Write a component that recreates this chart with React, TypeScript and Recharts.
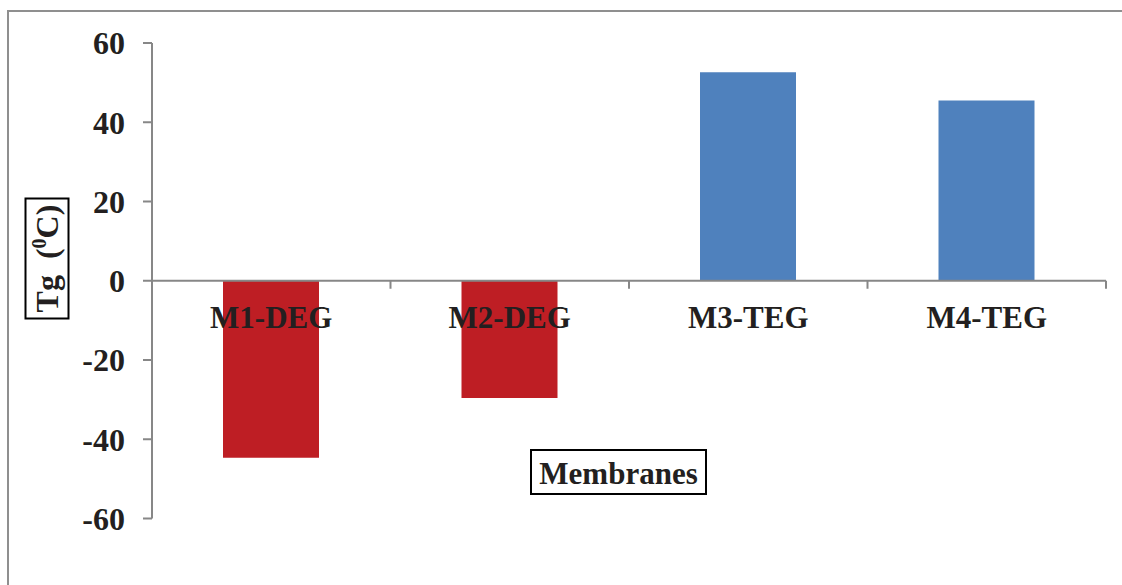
import React from 'react';
import { BarChart, Bar, XAxis, YAxis, Cell, ReferenceLine } from 'recharts';

const membranes = ['M1-DEG', 'M2-DEG', 'M3-TEG', 'M4-TEG'];
const tgValues = [-44.7, -29.6, 52.6, 45.5];
const yTicks = [-60, -40, -20, 0, 20, 40, 60];

const data = membranes.map((name, i) => ({ name, tg: tgValues[i] }));

const W = 1122;
const H = 585;
const TOP = 43;
const BOTTOM = 65.5;
const XH = 1;
const PLOT_H = H - TOP - BOTTOM - XH;
const AXIS = '#878787';
const TEXT = '#231F20';
const FONT = '"Liberation Serif", "Times New Roman", serif';

const CategoryTick = (props: any) => {
    const { x, y, payload, index, visibleTicksCount } = props;
    // domain is symmetric, so zero sits mid-plot
    const zy = y - PLOT_H / 2;
    const off = payload.offset ?? 0;
    return (
        <g>
            <line x1={x - off} x2={x - off} y1={zy} y2={zy + 8} stroke={AXIS} strokeWidth={2} />
            {index === visibleTicksCount - 1 && (
                <line x1={x + off} x2={x + off} y1={zy} y2={zy + 8} stroke={AXIS} strokeWidth={2} />
            )}
            <text x={x} y={zy + 47} textAnchor="middle" fontFamily={FONT} fontWeight="bold" fontSize={31} fill={TEXT}>
                {payload.value}
            </text>
        </g>
    );
};

const YTitle = () => (
    <g>
        <rect x={25.5} y={198.5} width={43} height={120} fill="#fff" stroke="#000" strokeWidth={2} />
        <text
            transform="translate(58, 258.5) rotate(-90)"
            textAnchor="middle"
            fontFamily={FONT}
            fontWeight="bold"
            fontSize={32}
            fill={TEXT}
        >
            {'Tg\u00a0\u00a0('}<tspan fontSize={20} dy={-12}>0</tspan><tspan dy={12}>C)</tspan>
        </text>
    </g>
);

const XTitle = () => (
    <g>
        <rect x={531} y={450} width={175} height={44} fill="#fff" stroke="#000" strokeWidth={2} />
        <text x={618.5} y={484} textAnchor="middle" fontFamily={FONT} fontWeight="bold" fontSize={31} fill={TEXT}>
            Membranes
        </text>
    </g>
);

export default function App() {
    return (
        <div style={{ position: 'absolute', left: 0, top: 0, width: W, height: H, background: '#fff', overflow: 'hidden' }}>
            <div
                style={{
                    position: 'absolute',
                    left: 7,
                    top: 10,
                    width: 1300,
                    height: 800,
                    border: '2px solid #8f8f8f',
                }}
            />
            <BarChart
                width={W}
                height={H}
                data={data}
                margin={{ top: TOP, right: 16, bottom: BOTTOM, left: 0 }}
                style={{ position: 'absolute', left: 0, top: 0 }}
            >
                <XAxis
                    dataKey="name"
                    height={XH}
                    axisLine={false}
                    tickLine={false}
                    tickSize={0}
                    tickMargin={0}
                    interval={0}
                    tick={<CategoryTick />}
                    label={<XTitle />}
                />
                <YAxis
                    width={152}
                    domain={[-60, 60]}
                    ticks={yTicks}
                    interval={0}
                    axisLine={{ stroke: AXIS, strokeWidth: 2 }}
                    tickLine={{ stroke: AXIS, strokeWidth: 2 }}
                    tickSize={9}
                    tickMargin={18}
                    tick={{ fontFamily: FONT, fontWeight: 'bold', fontSize: 32, fill: TEXT }}
                    label={<YTitle />}
                />
                <ReferenceLine y={0} stroke={AXIS} strokeWidth={2} />
                <Bar dataKey="tg" barSize={96} isAnimationActive={false}>
                    {data.map((d) => (
                        <Cell key={d.name} fill={d.tg < 0 ? '#BE1E24' : '#4F81BD'} />
                    ))}
                </Bar>
            </BarChart>
        </div>
    );
}
